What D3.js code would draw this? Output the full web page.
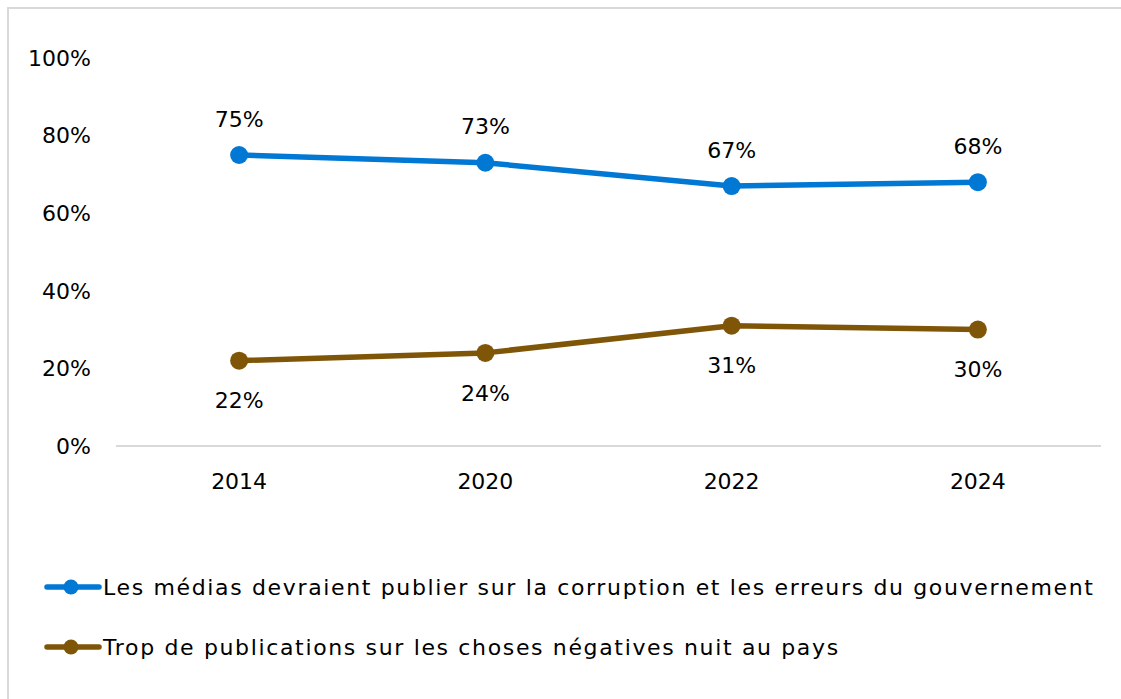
<!DOCTYPE html>
<html><head><meta charset="utf-8">
<script src="https://cdn.jsdelivr.net/npm/d3@7"></script>
<style>
body{margin:0;background:#fff;}
svg text{font-family:"DejaVu Sans",sans-serif;fill:#000;}
</style></head>
<body><svg id="c" width="1121" height="699"></svg>
<script>
const years = ["2014","2020","2022","2024"];
const seriesNames = ["Les médias devraient publier sur la corruption et les erreurs du gouvernement",
                     "Trop de publications sur les choses négatives nuit au pays"];
const mediaValues = [75, 73, 67, 68];
const tropValues = [22, 24, 31, 30];
const yTicks = [0, 20, 40, 60, 80, 100];
const colors = ["#0078D4", "#7F5607"];

const svg = d3.select("#c");
svg.append("rect").attr("x",8).attr("y",8).attr("width",1120).attr("height",700)
  .attr("fill","#fff").attr("stroke","#d9d9d9").attr("stroke-width",2);

const x = d3.scaleBand().domain(years).range([116,1101]);
const y = d3.scaleLinear().domain([0,100]).range([446,58]);
const fs = 22;

svg.selectAll(".yl").data(yTicks).enter().append("text")
  .attr("x",91).attr("y",d=>y(d)).attr("dy","0.35em").attr("text-anchor","end")
  .attr("font-size",fs).text(d=>d+"%");
svg.append("line").attr("x1",116).attr("x2",1101).attr("y1",y(0)).attr("y2",y(0))
  .attr("stroke","#d9d9d9").attr("stroke-width",2);
svg.selectAll(".xl").data(years).enter().append("text")
  .attr("x",d=>x(d)+x.bandwidth()/2).attr("y",481).attr("dy","0.35em")
  .attr("text-anchor","middle").attr("font-size",fs).text(d=>d);

const series = [mediaValues, tropValues];
const cx = d=>x(d)+x.bandwidth()/2;
series.forEach((vals,i)=>{
  const pts = years.map((yr,j)=>({yr, v:vals[j]}));
  svg.append("path").datum(pts)
    .attr("d", d3.line().x(d=>cx(d.yr)).y(d=>y(d.v)))
    .attr("fill","none").attr("stroke",colors[i]).attr("stroke-width",5.5).attr("stroke-linejoin","round");
  svg.selectAll(".pt"+i).data(pts).enter().append("circle")
    .attr("cx",d=>cx(d.yr)).attr("cy",d=>y(d.v)).attr("r",9).attr("fill",colors[i]);
  svg.selectAll(".lb"+i).data(pts).enter().append("text")
    .attr("x",d=>cx(d.yr)).attr("y",d=>y(d.v)+(i===0?-36:40)).attr("dy","0.35em")
    .attr("text-anchor","middle").attr("font-size",fs).text(d=>d.v+"%");
});

const legY = [587, 647];
seriesNames.forEach((name,i)=>{
  const g = svg.append("g");
  g.append("line").attr("x1",47).attr("x2",99).attr("y1",legY[i]).attr("y2",legY[i])
    .attr("stroke",colors[i]).attr("stroke-width",5.5).attr("stroke-linecap","round");
  g.append("circle").attr("cx",71).attr("cy",legY[i]).attr("r",7.5).attr("fill",colors[i]);
  g.append("text").attr("x",103).attr("y",legY[i]).attr("dy","0.35em")
    .attr("font-size",fs).attr("letter-spacing","1.65px").text(name);
});
</script></body></html>
